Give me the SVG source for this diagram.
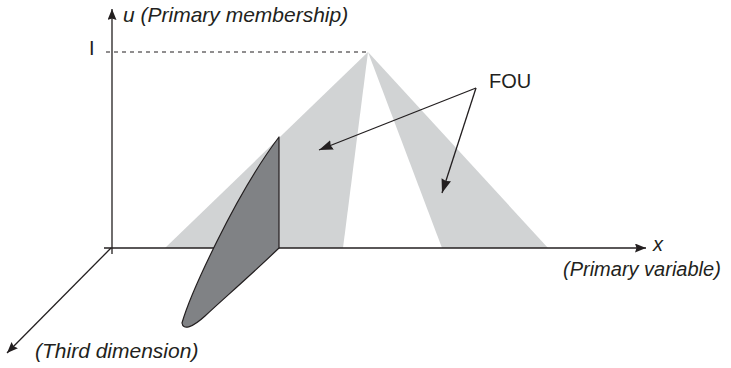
<svg xmlns="http://www.w3.org/2000/svg" width="731" height="368" viewBox="0 0 731 368">
<defs>
<marker id="ah" markerWidth="11" markerHeight="9" refX="11" refY="4.5" orient="auto" markerUnits="userSpaceOnUse">
<path d="M0,0 L11,4.5 L0,9 L1.5,4.5 Z" fill="#231f20"/>
</marker>
<marker id="ah2" markerWidth="14" markerHeight="10" refX="14" refY="5" orient="auto" markerUnits="userSpaceOnUse">
<path d="M0,0 L14,5 L0,10 L1.5,5 Z" fill="#231f20"/>
</marker>
</defs>
<style>
.ax{stroke:#231f20;stroke-width:1.3;fill:none}
.lbl{font-family:"Liberation Sans",Arial,sans-serif;font-size:20px;fill:#231f20}
.it{font-style:italic}
.big{font-size:21px}
.fou{fill:#d1d3d4}
</style>
<g id="fou-left"><polygon class="fou" points="368,52 165,248 343,248"/></g>
<g id="fou-right"><polygon class="fou" points="368,52 442,248 548,248"/></g>
<g id="connectors">
<line class="ax" x1="112" y1="254" x2="112" y2="9" marker-end="url(#ah)"/>
<line class="ax" x1="104" y1="248" x2="646" y2="248" marker-end="url(#ah)"/>
<line class="ax" x1="111" y1="248" x2="7" y2="353" marker-end="url(#ah)"/>
<line x1="106" y1="52" x2="367" y2="52" stroke="#231f20" stroke-width="1.2" stroke-dasharray="4,4"/>
<line class="ax" x1="476" y1="88" x2="319" y2="150" stroke-width="1.2" marker-end="url(#ah2)"/>
<line class="ax" x1="476" y1="88" x2="442" y2="193" stroke-width="1.2" marker-end="url(#ah2)"/>
</g>
<g id="slice">
<path d="M279,137 L279,248 C250,276 222,300 205,316 C193,327 183,331 182,323 C190,295 235,195 279,137 Z" fill="#808285" stroke="#231f20" stroke-width="1.2" stroke-linejoin="round"/>
</g>
<g id="labels">
<text class="lbl it big" x="123" y="22">u (Primary membership)</text>
<text class="lbl" x="89" y="55">I</text>
<text class="lbl" x="489" y="88">FOU</text>
<text class="lbl it" x="653" y="251">x</text>
<text class="lbl it" x="563" y="276">(Primary variable)</text>
<text class="lbl it big" x="35" y="358">(Third dimension)</text>
</g>
</svg>
